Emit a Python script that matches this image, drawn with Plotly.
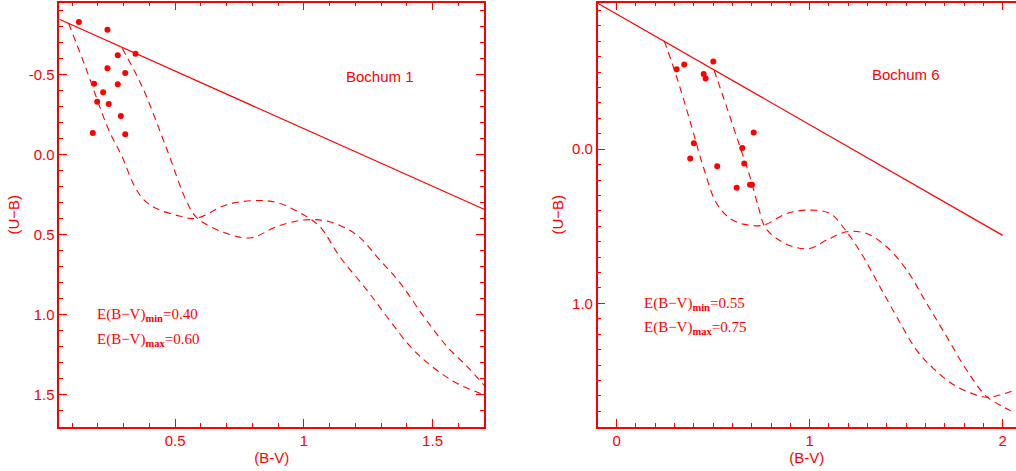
import plotly.graph_objects as go

RED = "#ff0000"

# ---- Bochum 1 (left panel) ----
b1_star_bv = [0.126, 0.237, 0.277, 0.346, 0.237, 0.306, 0.185, 0.277, 0.22, 0.197, 0.242, 0.289, 0.18, 0.306]
b1_star_ub = [-0.829, -0.781, -0.621, -0.631, -0.54, -0.51, -0.444, -0.44, -0.39, -0.331, -0.317, -0.242, -0.136, -0.127]

b1_redline_bv = [0.05, 1.70]
b1_redline_ub = [-0.846, 0.341]

b1_zams_min_bv = [0.086, 0.151, 0.242, 0.294, 0.34, 0.379, 0.425, 0.516, 0.581, 0.698, 0.802, 0.893, 1.0, 1.0625,
                  1.14, 1.245, 1.323, 1.414, 1.499, 1.596, 1.70]
b1_zams_min_ub = [-0.821, -0.55, -0.154, 0.013, 0.19, 0.283, 0.335, 0.383, 0.398, 0.314, 0.287, 0.298, 0.377, 0.45,
                  0.638, 0.846, 1.0125, 1.2, 1.325, 1.43, 1.50]

b1_zams_max_bv = [0.294, 0.372, 0.464, 0.548, 0.587, 0.698, 0.796, 0.893, 1.0, 1.10, 1.206, 1.284, 1.375, 1.466,
                  1.557, 1.635, 1.70]
b1_zams_max_ub = [-0.665, -0.425, -0.05, 0.304, 0.398, 0.491, 0.519, 0.45, 0.408, 0.419, 0.502, 0.638, 0.804, 1.0125,
                  1.2, 1.325, 1.44]

# ---- Bochum 6 (right panel) ----
b6_star_bv = [0.311, 0.350, 0.501, 0.451, 0.461, 0.710, 0.40, 0.651, 0.381, 0.521, 0.661, 0.622, 0.691, 0.701]
b6_star_ub = [-0.518, -0.549, -0.568, -0.488, -0.458, -0.108, -0.039, -0.008, 0.06, 0.11, 0.093, 0.251, 0.231, 0.231]

b6_redline_bv = [-0.10, 2.0]
b6_redline_ub = [-0.948, 0.559]

b6_zams_min_bv = [0.247, 0.311, 0.389, 0.449, 0.518, 0.587, 0.656, 0.76, 0.881, 1.0, 1.105, 1.192, 1.278, 1.364,
                  1.451, 1.554, 1.640, 1.762, 1.917, 1.986, 2.055]
b6_zams_min_ub = [-0.702, -0.469, -0.145, 0.115, 0.352, 0.449, 0.486, 0.493, 0.417, 0.395, 0.417, 0.536, 0.698, 0.892,
                  1.087, 1.303, 1.421, 1.54, 1.609, 1.594, 1.566]

b6_zams_max_bv = [0.505, 0.57, 0.639, 0.691, 0.734, 0.768, 0.829, 0.915, 1.0, 1.088, 1.192, 1.295, 1.399, 1.503,
                  1.606, 1.71, 1.813, 1.917, 2.003, 2.064]
b6_zams_max_ub = [-0.512, -0.274, -0.015, 0.18, 0.374, 0.503, 0.579, 0.633, 0.644, 0.59, 0.536, 0.547, 0.633, 0.784,
                  1.0, 1.216, 1.432, 1.605, 1.67, 1.713]

b1_xticks = [0.5, 1.0, 1.5]
b1_xtext = ["0.5", "1", "1.5"]
b1_yticks = [-0.5, 0.0, 0.5, 1.0, 1.5]
b1_ytext = ["-0.5", "0.0", "0.5", "1.0", "1.5"]
b6_xticks = [0, 1, 2]
b6_xtext = ["0", "1", "2"]
b6_yticks = [0.0, 1.0]
b6_ytext = ["0.0", "1.0"]

fig = go.Figure()


def add_panel(xa, ya, sbv, sub, lbv, lub, mnbv, mnub, mxbv, mxub):
    fig.add_trace(go.Scatter(x=lbv, y=lub, mode="lines", line=dict(color=RED, width=1.2),
                             xaxis=xa, yaxis=ya, showlegend=False))
    fig.add_trace(go.Scatter(x=mnbv, y=mnub, mode="lines", line=dict(color=RED, width=1.1, dash="7px,5px", shape="spline"),
                             xaxis=xa, yaxis=ya, showlegend=False))
    fig.add_trace(go.Scatter(x=mxbv, y=mxub, mode="lines", line=dict(color=RED, width=1.1, dash="7px,5px", shape="spline"),
                             xaxis=xa, yaxis=ya, showlegend=False))
    fig.add_trace(go.Scatter(x=sbv, y=sub, mode="markers", marker=dict(color=RED, size=6),
                             xaxis=xa, yaxis=ya, showlegend=False))


add_panel("x", "y", b1_star_bv, b1_star_ub, b1_redline_bv, b1_redline_ub,
          b1_zams_min_bv, b1_zams_min_ub, b1_zams_max_bv, b1_zams_max_ub)
add_panel("x2", "y2", b6_star_bv, b6_star_ub, b6_redline_bv, b6_redline_ub,
          b6_zams_min_bv, b6_zams_min_ub, b6_zams_max_bv, b6_zams_max_ub)

axis_common = dict(
    showgrid=False, zeroline=False, showline=True, linecolor=RED, linewidth=1.5,
    mirror="ticks", ticks="inside", ticklen=8, tickcolor=RED, tickwidth=1.2,
    automargin=False,
    tickfont=dict(family="Liberation Sans", size=15, color=RED),
    minor=dict(ticks="inside", ticklen=4, dtick=0.1, tickcolor=RED, tickwidth=1.2, showgrid=False),
)
title_font = dict(family="Liberation Sans", size=15, color=RED)

fig.update_layout(
    width=1016, height=471,
    margin=dict(l=0, r=0, t=0, b=0),
    paper_bgcolor="white", plot_bgcolor="white",
    xaxis=dict(axis_common, domain=[0.0584, 0.4764], range=[0.05, 1.70],
               tickvals=b1_xticks, ticktext=b1_xtext, tick0=0,
               title=dict(text="(B-V)", font=title_font, standoff=4)),
    yaxis=dict(axis_common, domain=[0.094, 0.9943], range=[1.70, -0.95],
               tickvals=b1_yticks, ticktext=b1_ytext, tick0=0,
               title=dict(text="(U−B)", font=title_font, standoff=5)),
    # right panel runs past the edge of the picture, so its right frame is not shown
    xaxis2=dict(axis_common, domain=[0.5883, 1.0], range=[-0.098, 2.069], anchor="y2",
                tickvals=b6_xticks, ticktext=b6_xtext, tick0=0,
                title=dict(text="(B-V)", font=title_font, standoff=4)),
    yaxis2=dict(axis_common, domain=[0.094, 0.9943], range=[1.80, -0.95], anchor="x2",
                mirror=False,
                tickvals=b6_yticks, ticktext=b6_ytext, tick0=0,
                title=dict(text="(U−B)", font=title_font, standoff=5)),
)

ann_font = dict(family="Liberation Sans", size=15, color=RED)
ann_font2 = dict(family="Liberation Serif", size=15, color=RED)
annotations = [
    dict(x=1.297, y=-0.486, xref="x", yref="y", text="Bochum 1", font=ann_font, showarrow=False),
    dict(x=1.497, y=-0.486, xref="x2", yref="y2", text="Bochum 6", font=ann_font, showarrow=False),
    dict(x=0.19, y=1.0, xref="x", yref="y", xanchor="left",
         text="E(B−V)<sub><b>min</b></sub>=0.40", font=ann_font2, showarrow=False),
    dict(x=0.19, y=1.158, xref="x", yref="y", xanchor="left",
         text="E(B−V)<sub><b>max</b></sub>=0.60", font=ann_font2, showarrow=False),
    dict(x=0.13, y=1.007, xref="x2", yref="y2", xanchor="left",
         text="E(B−V)<sub><b>min</b></sub>=0.55", font=ann_font2, showarrow=False),
    dict(x=0.13, y=1.162, xref="x2", yref="y2", xanchor="left",
         text="E(B−V)<sub><b>max</b></sub>=0.75", font=ann_font2, showarrow=False),
]
fig.update_layout(annotations=annotations)

# the page's default body margin would shift the figure by 8px
fig.write_html("out.html", config={"displayModeBar": False},
               post_script="document.body.style.margin='0';")
